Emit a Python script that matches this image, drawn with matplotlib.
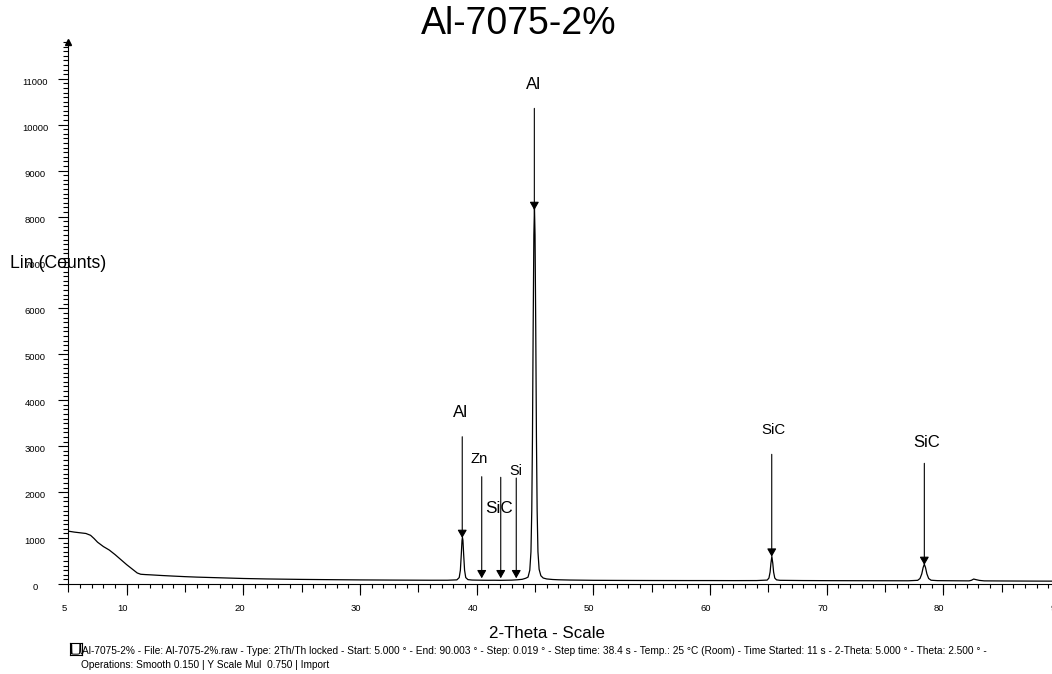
import matplotlib
matplotlib.use("Agg")
import matplotlib.pyplot as plt
from matplotlib.ticker import MultipleLocator, FixedLocator, FuncFormatter
from matplotlib.transforms import ScaledTranslation

plt.rcParams['font.family'] = ['Liberation Sans', 'DejaVu Sans']

# ---------------- data ----------------
two_theta = [5.0, 5.5, 6.0, 6.5, 6.9, 7.2, 7.5, 8.0, 8.5, 9.0, 9.5, 10.0, 10.5,
             10.9, 11.2, 11.6, 12.0, 13.0, 14.0, 15.0, 16.0, 18.0, 20.0, 22.0,
             25.0, 28.0, 30.0, 33.0, 36.0, 37.5, 38.3, 38.5, 38.6, 38.68, 38.74,
             38.78, 38.82, 38.88, 38.96, 39.06, 39.25, 39.6, 40.0, 40.5, 41.0,
             41.5, 42.0, 42.5, 43.0, 43.5, 43.9, 44.2, 44.4, 44.55, 44.65, 44.72,
             44.78, 44.84, 44.9, 44.95, 45.0, 45.06, 45.12, 45.18, 45.25, 45.35,
             45.5, 45.7, 46.0, 46.5, 47.0, 48.0, 50.0, 52.0, 55.0, 58.0, 60.0,
             62.0, 64.0, 64.9, 65.05, 65.15, 65.22, 65.3, 65.38, 65.45, 65.55,
             65.7, 66.0, 68.0, 70.0, 72.0, 75.0, 77.0, 77.8, 78.0, 78.15, 78.27,
             78.37, 78.47, 78.59, 78.74, 78.95, 79.5, 81.0, 82.2, 82.4, 82.6,
             82.8, 83.1, 83.5, 85.0, 88.0, 90.0]
counts = [1150, 1130, 1115, 1100, 1060, 990, 910, 815, 740, 640, 530, 420, 320,
          240, 212, 205, 200, 185, 172, 160, 150, 135, 120, 110,
          100, 93, 89, 85, 82, 82, 90, 140, 300, 650, 950,
          1010, 950, 650, 300, 140, 95, 86, 84, 82, 81,
          82, 80, 82, 84, 92, 102, 125, 150, 300, 700, 1600,
          3200, 5600, 7600, 8200, 7600, 5600, 3200, 1600, 700, 320,
          180, 130, 110, 98, 92, 86, 80, 78, 76, 75, 75,
          74, 75, 85, 130, 260, 450, 600, 450, 260, 130,
          90, 80, 75, 73, 72, 71, 70, 80, 120, 220, 360,
          430, 360, 220, 120, 82, 73, 70, 68, 80, 108,
          95, 78, 68, 66, 63, 62]

peak_labels = ['Al', 'Zn', 'SiC', 'Si', 'Al', 'SiC', 'SiC']
peak_pos = [38.76, 40.43, 42.06, 43.39, 44.94, 65.29, 78.37]
peak_tip = [1001, 124, 124, 124, 8141, 594, 414]
arrow_top = [3206, 2336, 2323, 2307, 10355, 2823, 2627]
label_x = [38.65, 40.17, 41.94, 43.37, 44.85, 65.42, 78.57]
label_y = [3629, 2627, 1539, 2373, 10768, 3265, 2976]
label_size = [12.2, 10.6, 12.3, 10.4, 12.2, 10.8, 12.0]

x_tick_labels = ['5', '10', '20', '30', '40', '50', '60', '70', '80', '90']
y_ticks = [0, 1000, 2000, 3000, 4000, 5000, 6000, 7000, 8000, 9000, 10000, 11000]

title = 'Al-7075-2%'
footer1 = ('Al-7075-2% - File: Al-7075-2%.raw - Type: 2Th/Th locked - Start: 5.000 \u00b0 - '
           'End: 90.003 \u00b0 - Step: 0.019 \u00b0 - Step time: 38.4 s - Temp.: 25 \u00b0C (Room) - '
           'Time Started: 11 s - 2-Theta: 5.000 \u00b0 - Theta: 2.500 \u00b0 -')
footer2 = 'Operations: Smooth 0.150 | Y Scale Mul  0.750 | Import'

# ---------------- figure ----------------
W, H = 1052, 674
fig = plt.figure(figsize=(W / 100, H / 100), dpi=100)
ax_l, ax_r, ax_b, ax_t = 68.4, 1060.0, 584.0, 42.0
ax = fig.add_axes([ax_l / W, 1 - ax_b / H, (ax_r - ax_l) / W, (ax_b - ax_t) / H])

ax.plot(two_theta, counts, color='black', lw=0.9)
ax.set_xlim(5, 90)
ax.set_ylim(0, 11800)

for s in ['top', 'right']:
    ax.spines[s].set_visible(False)
for s in ['left', 'bottom']:
    ax.spines[s].set_linewidth(0.8)
    ax.spines[s].set_color('black')

# arrow head at top of y axis
ax.plot([0], [1], marker='^', color='black', markersize=4, transform=ax.transAxes,
        clip_on=False)

# x ticks: mid ticks every 5 (labelled at 5 and tens), minor every 1
ax.xaxis.set_major_locator(MultipleLocator(5))
ax.xaxis.set_minor_locator(MultipleLocator(1))
lab_map = {float(t): t for t in x_tick_labels}
ax.xaxis.set_major_formatter(FuncFormatter(lambda v, p: lab_map.get(round(v, 6), '')))
ax.tick_params(axis='x', which='major', length=5.8, width=0.8, pad=8.6,
               labelsize=6.8, direction='out')
ax.tick_params(axis='x', which='minor', length=3.0, width=0.8, direction='out')
# long ticks at tens
sec = ax.secondary_xaxis('bottom')
sec.xaxis.set_major_locator(MultipleLocator(10))
sec.tick_params(axis='x', which='major', length=7.7, width=0.8, labelbottom=False)
sec.tick_params(axis='x', which='minor', length=0)
sec.spines['bottom'].set_visible(False)

# y ticks
ax.yaxis.set_major_locator(FixedLocator(y_ticks))
ax.yaxis.set_minor_locator(MultipleLocator(100))
ax.tick_params(axis='y', which='major', length=7.2, width=0.8, pad=16.8,
               labelsize=6.8, direction='out')
ax.tick_params(axis='y', which='minor', length=3.8, width=0.8, direction='out')

fig.canvas.draw()
for lbl in ax.get_xticklabels():
    lbl.set_transform(lbl.get_transform() + ScaledTranslation(-4 / 100, 0, fig.dpi_scale_trans))
for lbl in ax.get_yticklabels():
    lbl.set_horizontalalignment('center')
    lbl.set_transform(lbl.get_transform() + ScaledTranslation(0, -2.5 / 100, fig.dpi_scale_trans))

# peak annotations
for lab, px, tip, top, lx, ly, fs in zip(peak_labels, peak_pos, peak_tip, arrow_top,
                                         label_x, label_y, label_size):
    ax.annotate('', xy=(px, tip), xytext=(px, top),
                arrowprops=dict(arrowstyle='-|>,head_length=0.4,head_width=0.23',
                                mutation_scale=12, lw=0.8, color='black',
                                shrinkA=0, shrinkB=0))
    ax.text(lx, ly, lab, ha='center', va='baseline', fontsize=fs, color='black')

# texts
fig.text(519 / W, 1 - 34.3 / H, title, ha='center', va='baseline', fontsize=27)
fig.text(10 / W, 1 - 267.7 / H, 'Lin (Counts)', ha='left', va='baseline', fontsize=12.7)
fig.text(547 / W, 1 - 637.7 / H, '2-Theta - Scale', ha='center', va='baseline', fontsize=12.2)
fig.text(82 / W, 1 - 654 / H, footer1, ha='left', va='baseline', fontsize=7.25)
fig.text(81 / W, 1 - 668 / H, footer2, ha='left', va='baseline', fontsize=7.25)

# small legend icon next to the footer
icon = fig.add_axes([70 / W, 1 - 655 / H, 12 / W, 12 / H])
icon.plot(two_theta, counts, color='black', lw=0.7)
icon.set_xlim(37.6, 46.2)
icon.set_ylim(0, 1150)
icon.set_xticks([])
icon.set_yticks([])
for s in icon.spines.values():
    s.set_linewidth(0.8)

fig.savefig('out.png', dpi=100)
